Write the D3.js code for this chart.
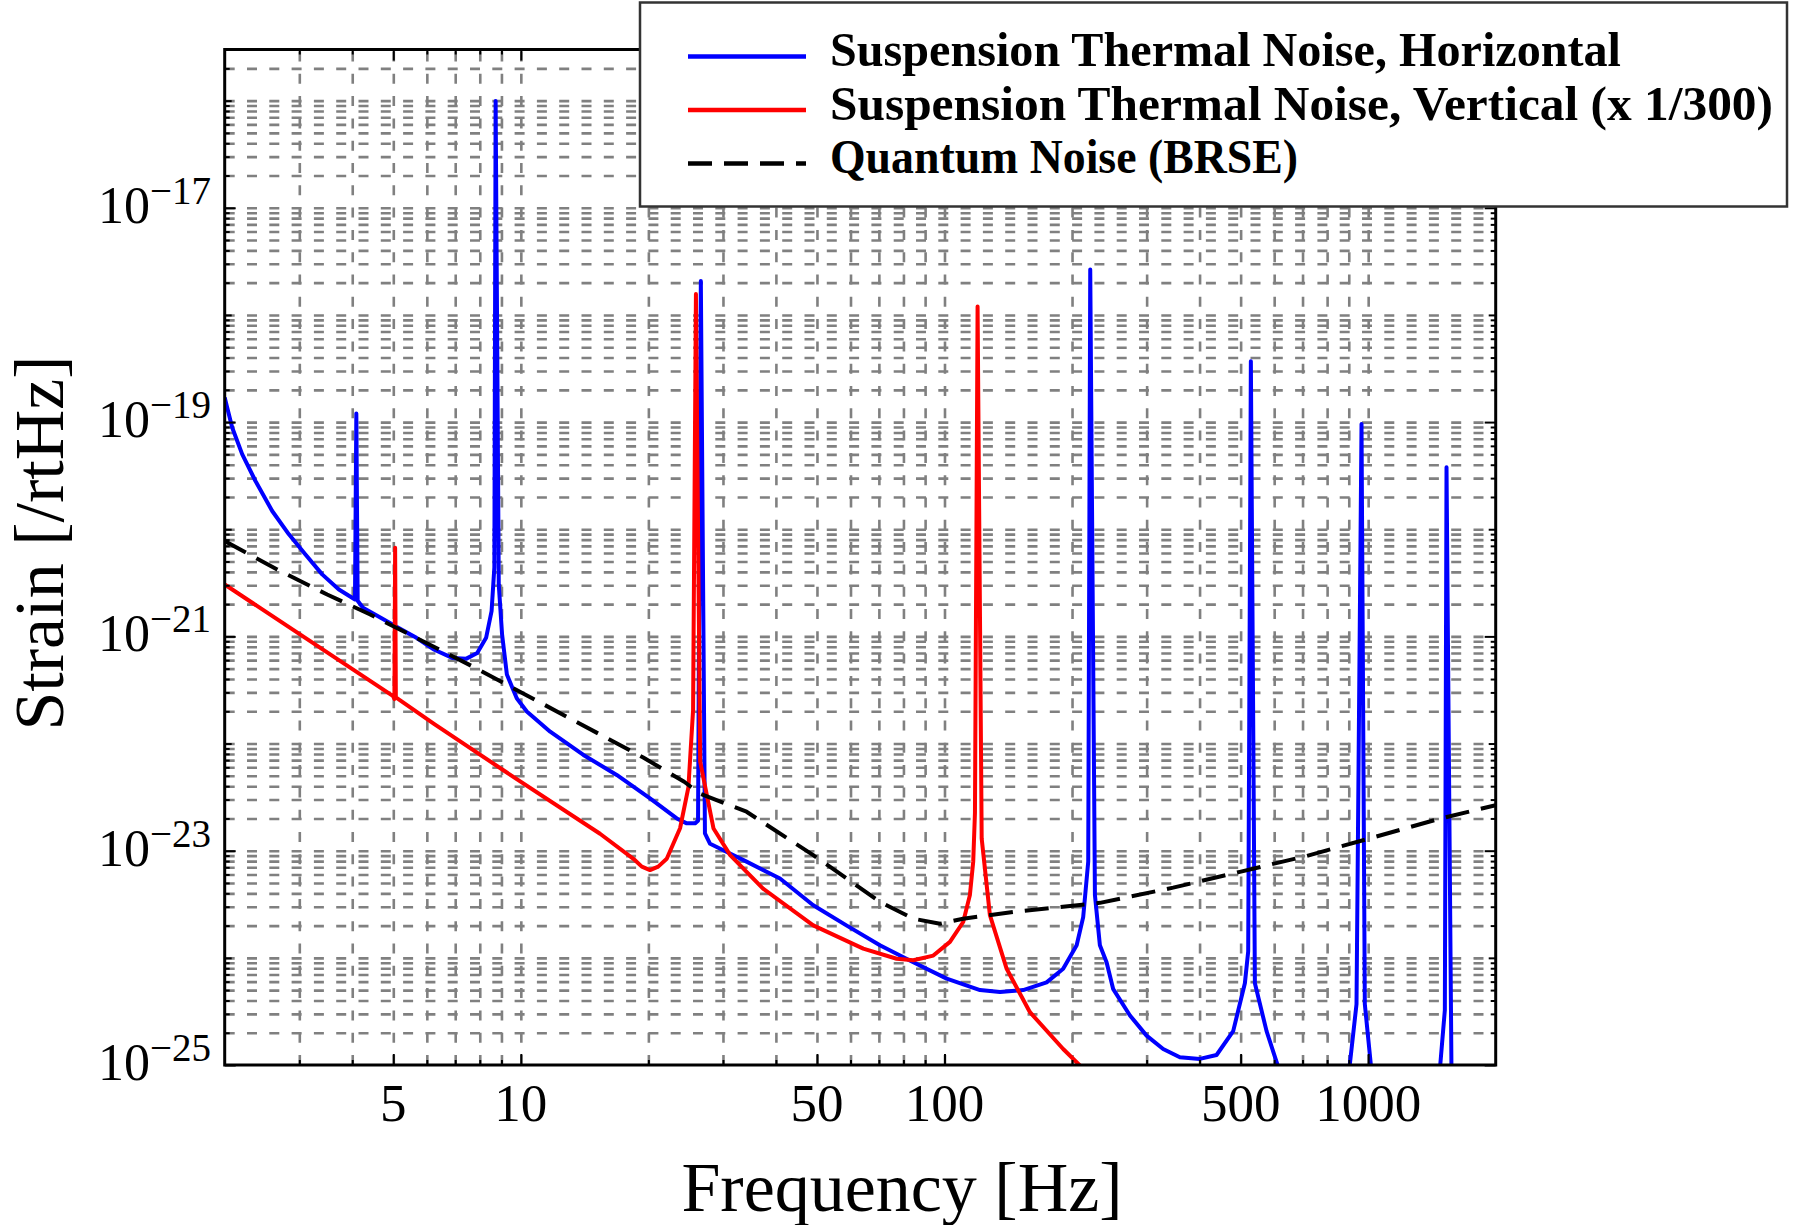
<!DOCTYPE html>
<html>
<head>
<meta charset="utf-8">
<script src="https://cdn.jsdelivr.net/npm/d3@7"></script>
<style>
body { margin: 0; background: #fff; }
svg { display: block; }
text { font-family: "Liberation Serif", "Times New Roman", serif; fill: #000; }
</style>
</head>
<body>
<div class="chart"></div>
<script>
// [frequency Hz, strain /rtHz]
const horizontal = [
    [2.00, 1.7e-19], [2.027, 1.37e-19], [2.083, 8.9e-20], [2.199, 5.02e-20], [2.364, 2.82e-20],
    [2.589, 1.48e-20], [2.835, 8.96e-21], [3.102, 5.82e-21], [3.397, 3.79e-21], [3.72, 2.74e-21],
    [4.06, 2.21e-21], [4.09, 1.2e-19], [4.12, 2.15e-21], [4.24, 1.85e-21], [4.67, 1.49e-21],
    [5.15, 1.2e-21], [5.67, 9.7e-22], [6.25, 7.5e-22], [6.89, 6.3e-22], [7.44, 6.2e-22],
    [7.89, 7.0e-22], [8.28, 9.7e-22], [8.53, 1.72e-21], [8.66, 4.4e-21], [8.72, 9.9e-17],
    [8.87, 3.05e-21], [9.03, 1.05e-21], [9.27, 4.4e-22], [9.78, 2.65e-22], [10.33, 1.99e-22],
    [11.73, 1.29e-22], [14.05, 7.83e-23], [16.84, 5.09e-23], [20.18, 3.08e-23], [23.34, 2.0e-23],
    [24.64, 1.8e-23], [25.77, 1.8e-23], [26.2, 1.9e-23], [26.6, 2.07e-18], [27.2, 1.45e-23],
    [27.97, 1.16e-23], [30.06, 1.01e-23], [34.1, 7.9e-24], [40.9, 5.5e-24], [49.0, 3.1e-24],
    [58.8, 2.0e-24], [70.4, 1.31e-24], [84.4, 9.1e-25], [101.2, 6.4e-25], [121.3, 5.0e-25],
    [135.2, 4.8e-25], [153.4, 5.0e-25], [174.2, 5.9e-25], [190.6, 7.9e-25], [205.1, 1.31e-24],
    [212.5, 2.4e-24], [218.4, 7.9e-24], [220.8, 2.66e-18], [226.5, 3.85e-24], [232.7, 1.31e-24],
    [241.3, 9.1e-25], [250.2, 5.1e-25], [274, 2.9e-25], [299.9, 1.88e-25], [328.2, 1.41e-25],
    [359.4, 1.18e-25], [400.6, 1.14e-25], [438.7, 1.24e-25], [480.2, 2.07e-25], [511.7, 5.8e-25],
    [521.0, 1.15e-24], [528.6, 3.7e-19], [540.3, 5.8e-25], [575.7, 2.07e-25], [618.8, 8.6e-26],
    [750, 2e-26], [901, 8.6e-26], [938.6, 3.7e-25], [964.5, 9.6e-20], [982, 3.7e-25],
    [1018.6, 8.6e-26], [1200, 3e-26], [1474.9, 8.6e-26], [1517, 3.25e-25], [1530.9, 3.78e-20],
    [1572.8, 8.6e-26], [2000, 3e-26]
]

const vertical = [
    [2.00, 3.05e-21], [4.996, 2.77e-22], [5.03, 2.6e-22], [5.05, 6.7e-21], [5.07, 2.7e-22],
    [6.25, 1.52e-22], [9.21, 5.45e-23], [15.38, 1.44e-23], [18.44, 8.4e-24], [19.3, 7.1e-24],
    [20.18, 6.6e-24], [21.1, 7.1e-24], [22.1, 8.4e-24], [23.76, 1.62e-23], [24.86, 3.9e-23],
    [25.5, 2.04e-22], [25.9, 1.57e-18], [26.5, 6.8e-23], [28.5, 1.61e-23], [31.2, 9.1e-24],
    [37.3, 4.43e-24], [49.0, 2.01e-24], [64.3, 1.22e-24], [77.1, 9.8e-25], [84.4, 9.5e-25],
    [94.1, 1.05e-24], [103.0, 1.41e-24], [110.7, 2.16e-24], [114.8, 3.85e-24], [116.9, 7.9e-24],
    [118.0, 2.25e-23], [119.7, 1.2e-18], [122.4, 1.3e-23], [128.0, 2.5e-24], [140.2, 7.9e-25],
    [159.1, 3.11e-25], [190.6, 1.41e-25], [208.7, 9.9e-26], [260, 4.3e-26]
]

const quantum = [
    [2.00, 7.76e-21], [2.66, 4.22e-21], [3.49, 2.46e-21], [4.41, 1.6e-21], [7.74, 5.18e-22],
    [13.58, 1.58e-22], [19.45, 7.4e-23], [24.3, 4.4e-23], [26.5, 3.4e-23], [34.1, 2.31e-23],
    [49.0, 9.1e-24], [70.4, 3.33e-24], [84.4, 2.32e-24], [97.6, 2.08e-24], [110.7, 2.32e-24],
    [145.3, 2.68e-24], [232.7, 3.26e-24], [346.5, 4.52e-24], [498, 6.35e-24], [715.4, 8.93e-24],
    [1027, 1.33e-23], [1476, 1.99e-23], [2000, 2.66e-23]
]

const legendLabels = [
    'Suspension Thermal Noise, Horizontal',
    'Suspension Thermal Noise, Vertical (x 1/300)',
    'Quantum Noise (BRSE)'
]
const legendWidths = [791, 943, 468]
const seriesColors = ['#0000ff', '#ff0000', '#000000']

const xLabelTicks = [5, 10, 50, 100, 500, 1000]
const xMinorTicks = [3, 4, 6, 7, 8, 9, 20, 30, 40, 60, 70, 80, 90, 200, 300, 400, 600, 700, 800, 900]
const yLabelTicks = [1e-17, 1e-19, 1e-21, 1e-23, 1e-25]
const yLabelExp = ['\u221217', '\u221219', '\u221221', '\u221223', '\u221225']
const yDecadeTicks = [1e-16, 1e-18, 1e-20, 1e-22, 1e-24]

const margin = { top: 49.5, left: 224.7, right: 298.3, bottom: 160 }
const width = 1794 - margin.left - margin.right
const height = 1225 - margin.top - margin.bottom

// minor y positions 2..9 x 10^n
const yMinorTicks = []
for (let e = -25; e <= -16; e++) {
    for (let k = 2; k <= 9; k++) {
        const v = k * Math.pow(10, e)
        if (v < 2.9e-16) yMinorTicks.push(v)
    }
}
const yGrid = yMinorTicks.concat(yDecadeTicks, yLabelTicks.filter(v => v > 1e-25))
const xGrid = xMinorTicks.concat(xLabelTicks)

const svg = d3.select('.chart')
    .append('svg')
    .attr('width', 1794)
    .attr('height', 1225)

const x = d3.scaleLog()
    .domain([2, 2000])
    .range([margin.left, margin.left + width])

const y = d3.scaleLog()
    .domain([1e-25, 3e-16])
    .range([margin.top + height, margin.top])

// dashed grid
const gridStyle = g => {
    g.select('.domain').remove()
    g.selectAll('line')
        .attr('stroke', '#808080')
        .attr('stroke-width', 2.6)
        .attr('stroke-dasharray', '10,12.3')
}

svg.append('g')
    .attr('transform', `translate(${margin.left},0)`)
    .call(d3.axisLeft(y).tickValues(yGrid).tickSize(-width).tickFormat(''))
    .call(gridStyle)

svg.append('g')
    .attr('transform', `translate(0,${margin.top + height})`)
    .call(d3.axisBottom(x).tickValues(xGrid).tickSize(-height).tickFormat(''))
    .call(gridStyle)

// curves
svg.append('clipPath')
    .attr('id', 'plot-clip')
    .append('rect')
    .attr('x', margin.left)
    .attr('y', margin.top)
    .attr('width', width)
    .attr('height', height)

const line = d3.line()
    .x(d => x(d[0]))
    .y(d => y(d[1]))

const curves = svg.append('g').attr('clip-path', 'url(#plot-clip)')

curves.selectAll('path')
    .data([horizontal, vertical, quantum])
    .enter()
    .append('path')
    .attr('d', line)
    .attr('fill', 'none')
    .attr('stroke', (d, i) => seriesColors[i])
    .attr('stroke-width', 4)
    .attr('stroke-linejoin', 'round')
    .attr('stroke-dasharray', (d, i) => i == 2 ? '24,12' : null)

// frame ticks, inward on all four sides
const tickStyle = g => {
    g.select('.domain').remove()
    g.selectAll('line').attr('stroke', '#000').attr('stroke-width', 2)
}

const sides = [
    [d3.axisBottom, x, `translate(0,${margin.top + height})`],
    [d3.axisTop, x, `translate(0,${margin.top})`],
    [d3.axisLeft, y, `translate(${margin.left},0)`],
    [d3.axisRight, y, `translate(${margin.left + width},0)`]
]

sides.forEach(([axis, scale, tr]) => {
    const sets = scale === x
        ? [[xLabelTicks, 11], [xMinorTicks, 5]]
        : [[yLabelTicks, 11], [yDecadeTicks, 7], [yMinorTicks, 5]]
    sets.forEach(([vals, len]) => {
        svg.append('g')
            .attr('transform', tr)
            .call(axis(scale).tickValues(vals).tickSize(-len).tickFormat(''))
            .call(tickStyle)
    })
})

svg.append('rect')
    .attr('x', margin.left)
    .attr('y', margin.top)
    .attr('width', width)
    .attr('height', height)
    .attr('fill', 'none')
    .attr('stroke', '#000')
    .attr('stroke-width', 3)

// tick labels
svg.append('g')
    .selectAll('text')
    .data(xLabelTicks)
    .enter()
    .append('text')
    .attr('x', d => x(d))
    .attr('y', margin.top + height + 56)
    .attr('text-anchor', 'middle')
    .attr('font-size', 53)
    .text(d => d)

const yLabels = svg.append('g')
    .selectAll('text')
    .data(yLabelTicks)
    .enter()
    .append('text')
    .attr('x', 211)
    .attr('y', d => y(d) + 15)
    .attr('text-anchor', 'end')

yLabels.append('tspan')
    .attr('font-size', 52)
    .text('10')

yLabels.append('tspan')
    .attr('font-size', 39)
    .attr('dy', -19)
    .text((d, i) => yLabelExp[i])

// axis titles
svg.append('text')
    .attr('x', 902)
    .attr('y', 1211)
    .attr('text-anchor', 'middle')
    .attr('font-size', 70)
    .text('Frequency [Hz]')

svg.append('text')
    .attr('transform', 'translate(63,543) rotate(-90)')
    .attr('text-anchor', 'middle')
    .attr('font-size', 70)
    .text('Strain [/rtHz]')

// legend
const legend = svg.append('g')

legend.append('rect')
    .attr('x', 640)
    .attr('y', 2.5)
    .attr('width', 1147)
    .attr('height', 204)
    .attr('fill', '#fff')
    .attr('stroke', '#333')
    .attr('stroke-width', 2.5)

const rows = legend.selectAll('g.row')
    .data(legendLabels)
    .enter()
    .append('g')
    .attr('class', 'row')
    .attr('transform', (d, i) => `translate(0,${66 + i * 53.5})`)

rows.append('line')
    .attr('x1', 688)
    .attr('x2', 806)
    .attr('y1', -9.5)
    .attr('y2', -9.5)
    .attr('stroke', (d, i) => seriesColors[i])
    .attr('stroke-width', 4.5)
    .attr('stroke-dasharray', (d, i) => i == 2 ? '24,12' : null)

rows.append('text')
    .attr('x', 830)
    .attr('font-size', 48)
    .attr('font-weight', 'bold')
    .attr('textLength', (d, i) => legendWidths[i])
    .attr('lengthAdjust', 'spacingAndGlyphs')
    .text(d => d)
</script>
</body>
</html>
